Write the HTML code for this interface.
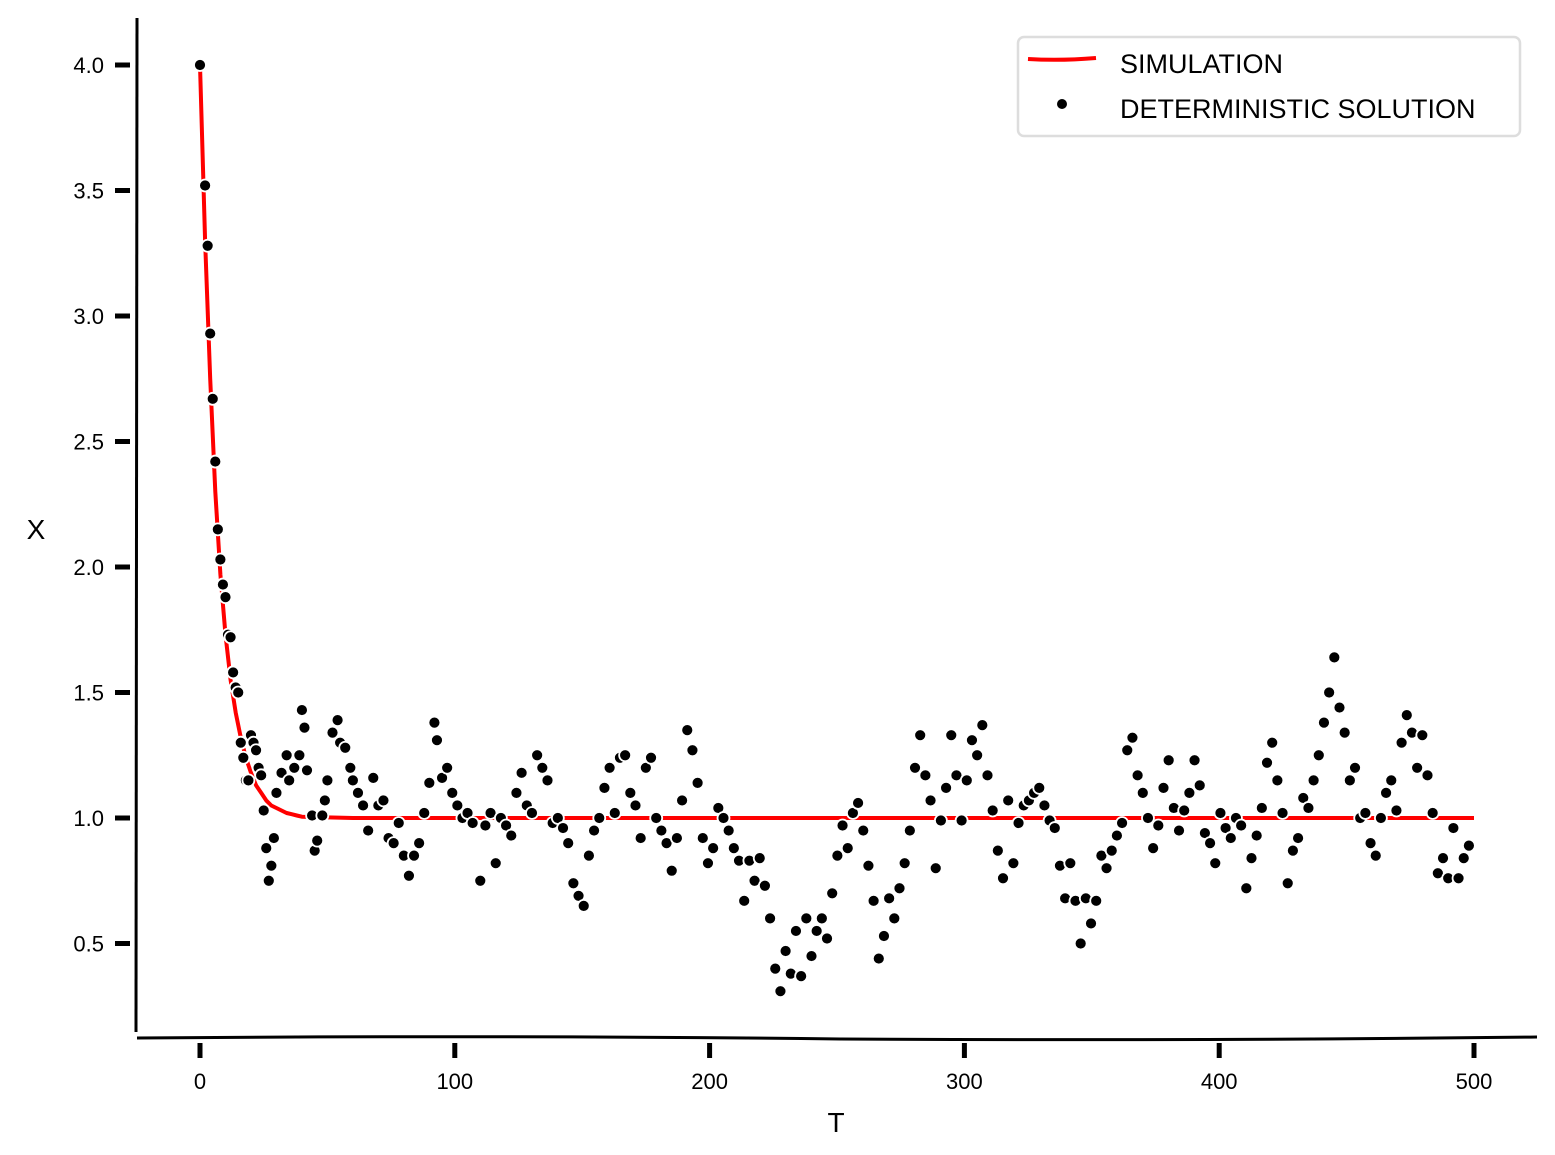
<!DOCTYPE html>
<html><head><meta charset="utf-8"><style>
html,body{margin:0;padding:0;background:#fff;}
svg{display:block;font-family:"Liberation Sans",sans-serif;}
</style></head><body>
<svg id="chart" width="1555" height="1155" viewBox="0 0 1555 1155">
<g id="axes"></g>
<g id="marks"></g>
<g id="legend">
 <rect x="1018" y="37" width="502" height="99" rx="6" fill="#fff" stroke="#ddd" stroke-width="2.5"/>
 <path d="M1028 59 Q1060 61 1096 58" stroke="#f00" stroke-width="4" fill="none"/>
 <text x="1120" y="73" font-size="27">SIMULATION</text>
 <circle cx="1062" cy="104" r="5" fill="#000"/>
 <text x="1120" y="118" font-size="27">DETERMINISTIC SOLUTION</text>
</g>
</svg>
<script>
const xTicks=[0,100,200,300,400,500];
const yTicks=[0.5,1.0,1.5,2.0,2.5,3.0,3.5,4.0];
const lineT=[0,2,4,6,8,10,12,14,16,18,20,22,24,26,28,30,32,34,36,38,40,60,100,200,300,400,500];
const lineX=[4.0,3.3,2.75,2.3,1.97,1.73,1.55,1.42,1.32,1.24,1.18,1.13,1.1,1.07,1.05,1.04,1.03,1.02,1.015,1.01,1.005,1.0,1.0,1.0,1.0,1.0,1.0];
const earlyT=[0,2,3,4,5,6,7,8,9,10,11,12,13,14,15,16,17,18,19,20,21,22,23,24,25,26,27,28,29,30,32,34,35,37,39,40,41,42,44,45,46,48,49,50,52,54,55,57,59,60,62,64,66,68,70,72,74,76,78,80,82,84,86,88,90,92,93,95,97,99,101,103,105,107,110];
const lateStart=112, lateEnd=498;
const dotX=[4.0,3.52,3.28,2.93,2.67,2.42,2.15,2.03,1.93,1.88,1.73,1.72,1.58,1.52,1.5,1.3,1.24,1.15,1.15,1.33,1.3,1.27,1.2,1.17,1.03,0.88,0.75,0.81,0.92,1.1,1.18,1.25,1.15,1.2,1.25,1.43,1.36,1.19,1.01,0.87,0.91,1.01,1.07,1.15,1.34,1.39,1.3,1.28,1.2,1.15,1.1,1.05,0.95,1.16,1.05,1.07,0.92,0.9,0.98,0.85,0.77,0.85,0.9,1.02,1.14,1.38,1.31,1.16,1.2,1.1,1.05,1.0,1.02,0.98,0.75,0.97,1.02,0.82,1.0,0.97,0.93,1.1,1.18,1.05,1.02,1.25,1.2,1.15,0.98,1.0,0.96,0.9,0.74,0.69,0.65,0.85,0.95,1.0,1.12,1.2,1.02,1.24,1.25,1.1,1.05,0.92,1.2,1.24,1.0,0.95,0.9,0.79,0.92,1.07,1.35,1.27,1.14,0.92,0.82,0.88,1.04,1.0,0.95,0.88,0.83,0.67,0.83,0.75,0.84,0.73,0.6,0.4,0.31,0.47,0.38,0.55,0.37,0.6,0.45,0.55,0.6,0.52,0.7,0.85,0.97,0.88,1.02,1.06,0.95,0.81,0.67,0.44,0.53,0.68,0.6,0.72,0.82,0.95,1.2,1.33,1.17,1.07,0.8,0.99,1.12,1.33,1.17,0.99,1.15,1.31,1.25,1.37,1.17,1.03,0.87,0.76,1.07,0.82,0.98,1.05,1.07,1.1,1.12,1.05,0.99,0.96,0.81,0.68,0.82,0.67,0.5,0.68,0.58,0.67,0.85,0.8,0.87,0.93,0.98,1.27,1.32,1.17,1.1,1.0,0.88,0.97,1.12,1.23,1.04,0.95,1.03,1.1,1.23,1.13,0.94,0.9,0.82,1.02,0.96,0.92,1.0,0.97,0.72,0.84,0.93,1.04,1.22,1.3,1.15,1.02,0.74,0.87,0.92,1.08,1.04,1.15,1.25,1.38,1.5,1.64,1.44,1.34,1.15,1.2,1.0,1.02,0.9,0.85,1.0,1.1,1.15,1.03,1.3,1.41,1.34,1.2,1.33,1.17,1.02,0.78,0.84,0.76,0.96,0.76,0.84,0.89];
const NS="http://www.w3.org/2000/svg";
const sx=t=>200+t*(1474-200)/500;
const sy=v=>818-(v-1)*251;
function mk(tag,attrs,parent){const e=document.createElementNS(NS,tag);for(const k in attrs)e.setAttribute(k,attrs[k]);parent.appendChild(e);return e;}
const ax=document.getElementById('axes'),mg=document.getElementById('marks');
let sp=mk('path',{d:'M137 18 Q138 520 136 1032',stroke:'#000','stroke-width':3,fill:'none'},ax);


sp=mk('path',{d:'M137 1038 Q500 1035 840 1039 Q1200 1041 1537 1037',stroke:'#000','stroke-width':3,fill:'none'},ax);


xTicks.forEach(t=>{
 const x=sx(t);
 const l=mk('line',{x1:x,y1:1043,x2:x,y2:1058,stroke:'#000','stroke-width':5},ax);
 
 
 const tx=mk('text',{x:x,y:1089,'font-size':22,'text-anchor':'middle'},ax);tx.textContent=t;
 
 
});
yTicks.forEach(v=>{
 const y=sy(v);
 const l=mk('line',{x1:115,y1:y,x2:130,y2:y,stroke:'#000','stroke-width':5},ax);
 
 
 const tx=mk('text',{x:104,y:y+8,'font-size':22,'text-anchor':'end'},ax);tx.textContent=v.toFixed(1);
 
 
});
let lb=mk('text',{x:836,y:1132,'font-size':28,'text-anchor':'middle'},ax);lb.textContent='T';


lb=mk('text',{x:36,y:539,'font-size':28,'text-anchor':'middle'},ax);lb.textContent='X';


const d=lineT.map((t,i)=>(i?'L':'M')+sx(t).toFixed(1)+' '+sy(lineX[i]).toFixed(1)).join(' ');
const ln=mk('path',{d:d,stroke:'#f00','stroke-width':4,fill:'none','stroke-linejoin':'round'},mg);


const nLate=dotX.length-earlyT.length;
dotX.forEach((v,i)=>{
 const t=i<earlyT.length?earlyT[i]:lateStart+(i-earlyT.length)*(lateEnd-lateStart)/(nLate-1);
 const c=mk('circle',{cx:sx(t),cy:sy(v),r:6,fill:'#000',stroke:'#fff','stroke-width':1.8},mg);
 
 
});
</script>
</body></html>
